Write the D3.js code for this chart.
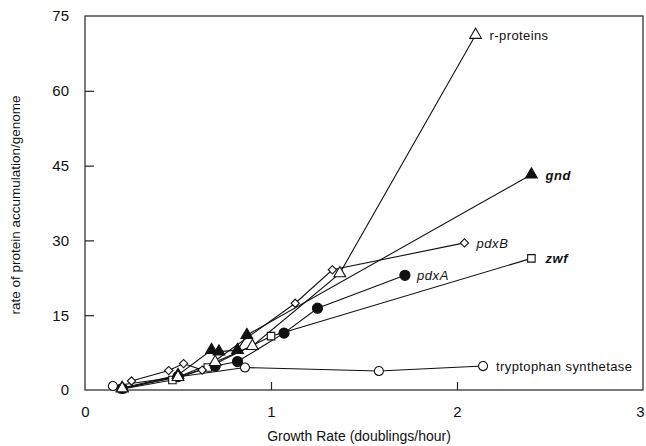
<!DOCTYPE html>
<html>
<head>
<meta charset="utf-8">
<script src="https://cdn.jsdelivr.net/npm/d3@7"></script>
<style>
  body { margin: 0; background: #fff; }
  text { font-family: "Liberation Sans", Arial, sans-serif; fill: #111; }
</style>
</head>
<body>
<script>
let width = 646;
let height = 446;
let margin = { top: 16, right: 3, bottom: 56, left: 85 };

// growth rate (doublings/hour) vs rate of protein accumulation/genome
let rProteins = [[0.20, 0.3], [0.50, 2.6], [0.70, 5.6], [0.90, 8.8], [1.37, 23.4], [2.10, 71.2]];
let gnd = [[0.20, 0.4], [0.50, 3.0], [0.68, 8.0], [0.72, 7.7], [0.82, 8.0], [0.87, 11.0], [2.40, 43.2]];
let pdxB = [[0.25, 1.8], [0.45, 3.9], [0.53, 5.3], [0.63, 4.0], [1.13, 17.4], [1.33, 24.1], [2.04, 29.5]];
let pdxA = [[0.20, 0.3], [0.50, 2.7], [0.70, 4.8], [0.82, 5.7], [1.07, 11.4], [1.25, 16.4], [1.72, 23.0]];
let zwf = [[0.20, 0.2], [0.47, 2.0], [0.66, 4.5], [1.00, 10.8], [2.40, 26.4]];
let trpSynthetase = [[0.15, 0.8], [0.86, 4.5], [1.58, 3.8], [2.14, 4.8]];

let xTicks = [0, 1, 2, 3];
let yTicks = [0, 15, 30, 45, 60, 75];

let series = [
  { name: "tryptophan synthetase", values: trpSynthetase, symbol: d3.symbolCircle, size: 64, rotate: 0, filled: false, italic: false },
  { name: "zwf", values: zwf, symbol: d3.symbolSquare, size: 56, rotate: 0, filled: false, italic: true },
  { name: "pdxA", values: pdxA, symbol: d3.symbolCircle, size: 80, rotate: 0, filled: true, italic: true },
  { name: "pdxB", values: pdxB, symbol: d3.symbolSquare, size: 34, rotate: 45, filled: false, italic: true },
  { name: "gnd", values: gnd, symbol: d3.symbolTriangle, size: 60, rotate: 0, filled: true, italic: true },
  { name: "r-proteins", values: rProteins, symbol: d3.symbolTriangle, size: 60, rotate: 0, filled: false, italic: false }
];

let svg = d3.select("body").append("svg")
            .attr("width", width)
            .attr("height", height);

let x = d3.scaleLinear().domain([0, 3]).range([margin.left, width - margin.right]);
let y = d3.scaleLinear().domain([0, 75]).range([height - margin.bottom, margin.top]);

// frame
svg.append("rect")
   .attr("x", x(0)).attr("y", y(75))
   .attr("width", x(3) - x(0)).attr("height", y(0) - y(75))
   .attr("fill", "none").attr("stroke", "#222").attr("stroke-width", 1.2);

// inward ticks
let xAxis = d3.axisBottom(x).tickValues(xTicks).tickSize(-8).tickPadding(16).tickFormat(d3.format("d"));
let yAxis = d3.axisLeft(y).tickValues(yTicks).tickSize(-9).tickPadding(16).tickFormat(d3.format("d"));

let gx = svg.append("g").attr("transform", "translate(0," + y(0) + ")").call(xAxis);
let gy = svg.append("g").attr("transform", "translate(" + x(0) + ",0)").call(yAxis);
[gx, gy].forEach(function(g) {
  g.select(".domain").remove();
  g.selectAll(".tick line").attr("stroke", "#222").attr("stroke-width", 1.2);
  g.selectAll(".tick text").style("font-size", "15px").style("font-family", "Liberation Sans, Arial, sans-serif").attr("fill", "#111");
});
gx.selectAll(".tick").filter(function(d) { return d === 0 || d === 3; }).select("line").remove();
gy.selectAll(".tick").filter(function(d) { return d === 0 || d === 75; }).select("line").remove();
// keep the last x label inside the window
gx.selectAll(".tick").filter(function(d) { return d === 3; }).select("text").attr("dx", -3);

svg.append("text")
   .attr("x", (x(0) + x(3)) / 2 - 5)
   .attr("y", 441)
   .attr("text-anchor", "middle")
   .style("font-size", "14px")
   .text("Growth Rate (doublings/hour)");

svg.append("text")
   .attr("transform", "translate(20," + 205 + ") rotate(-90)")
   .attr("text-anchor", "middle")
   .style("font-size", "13.5px")
   .text("rate of protein accumulation/genome");

let line = d3.line().x(function(d) { return x(d[0]); }).y(function(d) { return y(d[1]); });

series.forEach(function(s) {
  svg.append("path")
     .datum(s.values)
     .attr("d", line)
     .attr("fill", "none")
     .attr("stroke", "#111")
     .attr("stroke-width", 1.1);
});

series.forEach(function(s) {
  let sym = d3.symbol().type(s.symbol).size(s.size);
  svg.append("g").selectAll("path")
     .data(s.values)
     .join("path")
     .attr("d", sym)
     .attr("transform", function(d) { return "translate(" + x(d[0]) + "," + y(d[1]) + ") rotate(" + s.rotate + ")"; })
     .attr("fill", s.filled ? "#111" : "#fff")
     .attr("stroke", "#111")
     .attr("stroke-width", 1.1);
});

// end labels
series.forEach(function(s) {
  let last = s.values[s.values.length - 1];
  let dx = s.name === "r-proteins" ? 14 : (s.name === "tryptophan synthetase" ? 13 : (s.name === "gnd" || s.name === "zwf" ? 14 : 12));
  svg.append("text")
     .attr("x", x(last[0]) + dx)
     .attr("y", y(last[1]) + 5)
     .style("font-size", "13px")
     .style("font-style", s.italic ? "italic" : "normal")
     .style("font-weight", s.name === "gnd" || s.name === "zwf" ? "bold" : "normal")
     .style("letter-spacing", s.italic ? "0.6px" : "0.4px")
     .text(s.name);
});
</script>
</body>
</html>
